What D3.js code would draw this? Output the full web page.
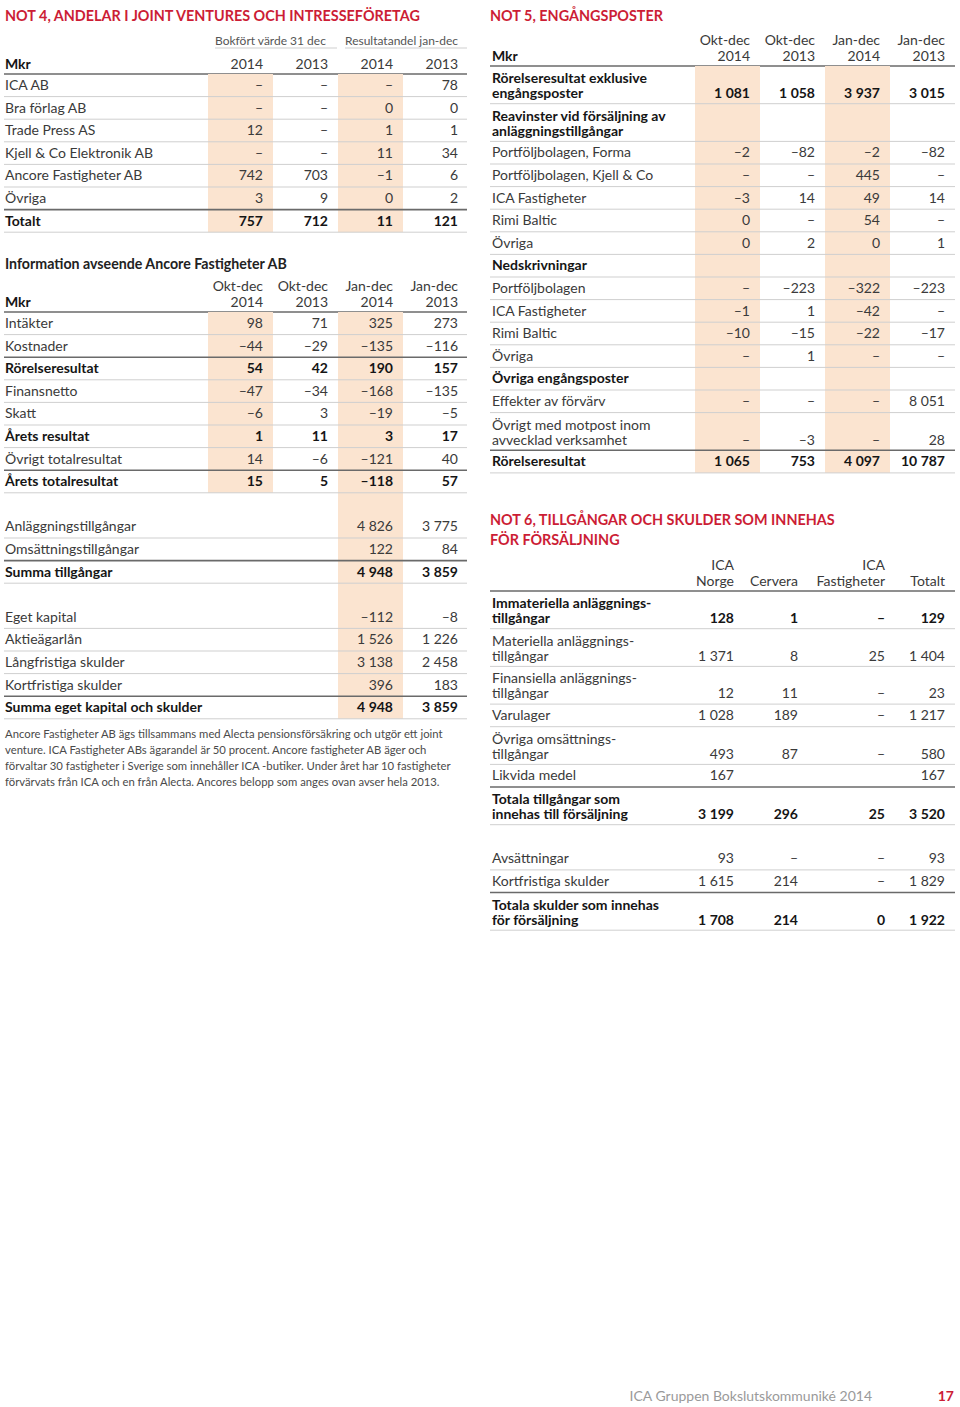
<!DOCTYPE html>
<html><head><meta charset="utf-8">
<script src="https://cdn.jsdelivr.net/npm/d3@7"></script>
<style>
html,body{margin:0;padding:0;background:#fff;}
svg{display:block;font-family:Lato,"Open Sans",sans-serif;}
</style></head>
<body><svg id="c" width="960" height="1407"></svg>
<script>
// ---------- DATA ----------
const not4Title = "NOT 4, ANDELAR I JOINT VENTURES OCH INTRESSEFÖRETAG";
const not4Groups = ["Bokfört värde 31 dec", "Resultatandel jan-dec"];
const not4Columns = [["2014"], ["2013"], ["2014"], ["2013"]];
const not4Companies = ["ICA AB", "Bra förlag AB", "Trade Press AS", "Kjell & Co Elektronik AB", "Ancore Fastigheter AB", "Övriga", "Totalt"];
const not4Values = [
  [null, null, null, 78],
  [null, null, 0, 0],
  [12, null, 1, 1],
  [null, null, 11, 34],
  [742, 703, -1, 6],
  [3, 9, 0, 2],
  [757, 712, 11, 121]
];

const ancoreTitle = "Information avseende Ancore Fastigheter AB";
const ancoreColumns = [["Okt-dec", "2014"], ["Okt-dec", "2013"], ["Jan-dec", "2014"], ["Jan-dec", "2013"]];
const ancoreItems = ["Intäkter", "Kostnader", "Rörelseresultat", "Finansnetto", "Skatt", "Årets resultat", "Övrigt totalresultat", "Årets totalresultat"];
const ancoreValues = [
  [98, 71, 325, 273],
  [-44, -29, -135, -116],
  [54, 42, 190, 157],
  [-47, -34, -168, -135],
  [-6, 3, -19, -5],
  [1, 11, 3, 17],
  [14, -6, -121, 40],
  [15, 5, -118, 57]
];
const ancoreBalanceItems = ["Anläggningstillgångar", "Omsättningstillgångar", "Summa tillgångar", "", "Eget kapital", "Aktieägarlån", "Långfristiga skulder", "Kortfristiga skulder", "Summa eget kapital och skulder"];
const ancoreBalance2014 = [4826, 122, 4948, "", -112, 1526, 3138, 396, 4948];
const ancoreBalance2013 = [3775, 84, 3859, "", -8, 1226, 2458, 183, 3859];
const ancoreNote = [
  "Ancore Fastigheter AB ägs tillsammans med Alecta pensionsförsäkring och utgör ett joint",
  "venture. ICA Fastigheter ABs ägarandel är 50 procent. Ancore fastigheter AB äger och",
  "förvaltar 30 fastigheter i Sverige som innehåller ICA -butiker. Under året har 10 fastigheter",
  "förvärvats från ICA och en från Alecta. Ancores belopp som anges ovan avser hela 2013."
];

const not5Title = "NOT 5, ENGÅNGSPOSTER";
const not5Columns = [["Okt-dec", "2014"], ["Okt-dec", "2013"], ["Jan-dec", "2014"], ["Jan-dec", "2013"]];
const not5Items = [
  ["Rörelseresultat exklusive", "engångsposter"],
  ["Reavinster vid försäljning av", "anläggningstillgångar"],
  ["Portföljbolagen, Forma"],
  ["Portföljbolagen, Kjell & Co"],
  ["ICA Fastigheter"],
  ["Rimi Baltic"],
  ["Övriga"],
  ["Nedskrivningar"],
  ["Portföljbolagen"],
  ["ICA Fastigheter"],
  ["Rimi Baltic"],
  ["Övriga"],
  ["Övriga engångsposter"],
  ["Effekter av förvärv"],
  ["Övrigt med motpost inom", "avvecklad verksamhet"],
  ["Rörelseresultat"]
];
const not5Values = [
  [1081, 1058, 3937, 3015],
  [],
  [-2, -82, -2, -82],
  [null, null, 445, null],
  [-3, 14, 49, 14],
  [0, null, 54, null],
  [0, 2, 0, 1],
  [],
  [null, -223, -322, -223],
  [-1, 1, -42, null],
  [-10, -15, -22, -17],
  [null, 1, null, null],
  [],
  [null, null, null, 8051],
  [null, -3, null, 28],
  [1065, 753, 4097, 10787]
];

const not6Title = ["NOT 6, TILLGÅNGAR OCH SKULDER SOM INNEHAS", "FÖR FÖRSÄLJNING"];
const not6Columns = [["ICA", "Norge"], ["", "Cervera"], ["ICA", "Fastigheter"], ["", "Totalt"]];
const not6Items = [
  ["Immateriella anläggnings-", "tillgångar"],
  ["Materiella anläggnings-", "tillgångar"],
  ["Finansiella anläggnings-", "tillgångar"],
  ["Varulager"],
  ["Övriga omsättnings-", "tillgångar"],
  ["Likvida medel"],
  ["Totala tillgångar som", "innehas till försäljning"],
  [""],
  ["Avsättningar"],
  ["Kortfristiga skulder"],
  ["Totala skulder som innehas", "för försäljning"]
];
const not6Values = [
  [128, 1, null, 129],
  [1371, 8, 25, 1404],
  [12, 11, null, 23],
  [1028, 189, null, 1217],
  [493, 87, null, 580],
  [167, "", "", 167],
  [3199, 296, 25, 3520],
  [],
  [93, null, null, 93],
  [1615, 214, null, 1829],
  [1708, 214, 0, 1922]
];

const footerText = "ICA Gruppen Bokslutskommuniké 2014";
const pageNumber = "17";

// ---------- STYLE ----------
const RED = "#cc1d35", TXT = "#3a3a3a", BOLD = "#151515", SHADE = "#fbe4d0";
const LIGHT = "#cfcfcf", DARK = "#6a6a6a";
const FS = 14, ROW = 22.6, ROW2 = 37.7;

const fmtNum = d3.formatLocale({decimal: ",", thousands: "\u00a0", grouping: [3], currency: ["", ""], minus: "\u2013"}).format(",d");
const cellText = v => v === null ? "\u2013" : (v === "" || v === undefined ? "" : fmtNum(v));

const svg = d3.select("#c");
svg.append("rect").attr("width", 960).attr("height", 1407).attr("fill", "#fff");

function layoutRows(rows, top) {
  let y = top;
  rows.forEach(r => { r.top = y; r.h = r.label.length > 1 ? ROW2 : ROW; y += r.h; r.bottom = y; });
  return y;
}

function drawTable(g, cfg) {
  const {x0, x1, lx, colX, rows, shades} = cfg;
  g.append("g").selectAll("rect").data(shades).join("rect")
    .attr("x", d => colX(d.col) - 55).attr("width", 65)
    .attr("y", d => d.y0).attr("height", d => d.y1 - d.y0)
    .attr("fill", SHADE);
  const rules = [];
  rows.forEach((r, i) => {
    if (r.noRule) return;
    const next = rows[i + 1];
    rules.push({y: r.bottom, dark: next && next.darkAbove});
  });
  g.append("g").selectAll("line").data(rules).join("line")
    .attr("x1", x0).attr("x2", x1)
    .attr("y1", d => d.y).attr("y2", d => d.y)
    .attr("stroke", d => d.dark ? DARK : LIGHT)
    .attr("stroke-width", d => d.dark ? 1.6 : 1);
  const rg = g.append("g").selectAll("g").data(rows).join("g");
  rg.each(function(r) {
    const sel = d3.select(this);
    const base = r.label.length > 1 ? r.top + 32 : r.top + 16;
    r.label.forEach((t, k) => {
      sel.append("text")
        .attr("x", lx)
        .attr("y", r.label.length > 1 ? r.top + 17 + k * 15 : base)
        .attr("font-size", FS)
        .attr("font-weight", r.bold || r.heading ? 700 : 400)
        .attr("fill", r.bold || r.heading ? BOLD : TXT)
        .text(t);
    });
    sel.selectAll("text.v").data(r.values.map((v, c) => ({v, c})).filter(d => d.v !== undefined))
      .join("text").attr("class", "v")
      .attr("x", d => colX(d.c)).attr("y", base)
      .attr("text-anchor", "end")
      .attr("font-size", FS)
      .attr("font-weight", r.bold ? 700 : 400)
      .attr("fill", r.bold ? BOLD : TXT)
      .text(d => cellText(d.v));
  });
}

function drawHeader(g, cfg) {
  const {x0, x1, lx, colX, cols, lineY, mkr} = cfg;
  cols.forEach((lines, c) => {
    lines.forEach((t, k) => {
      g.append("text")
        .attr("x", colX(c))
        .attr("y", lineY - 5.5 - (lines.length - 1 - k) * 15.5)
        .attr("text-anchor", "end").attr("font-size", FS).attr("fill", TXT)
        .text(t);
    });
  });
  if (mkr) g.append("text").attr("x", lx).attr("y", lineY - 5.5)
    .attr("font-size", FS).attr("font-weight", 700).attr("fill", BOLD).text("Mkr");
  g.append("line").attr("x1", x0).attr("x2", x1).attr("y1", lineY).attr("y2", lineY)
    .attr("stroke", DARK).attr("stroke-width", 1.6);
}

function title(g, x, y, t) {
  g.append("text").attr("x", x).attr("y", y).attr("font-size", 14.4)
    .attr("font-weight", 700).attr("fill", RED).text(t);
}

// ---------- NOT 4 ----------
{
  const g = svg.append("g");
  const x0 = 4, x1 = 467, lx = 5;
  const colX = d3.scalePoint().domain(d3.range(4)).range([263, 458]);
  title(g, 5, 21, not4Title);
  const groupX = d3.scaleOrdinal().domain([0, 1]).range([[215, 337], [345, 467]]);
  not4Groups.forEach((t, i) => {
    const [a, b] = groupX(i);
    g.append("text").attr("x", a).attr("y", 45).attr("font-size", 12).attr("fill", "#555").text(t);
    g.append("line").attr("x1", a).attr("x2", b).attr("y1", 48).attr("y2", 48)
      .attr("stroke", LIGHT).attr("stroke-width", 1);
  });
  drawHeader(g, {x0, x1, lx, colX, cols: not4Columns, lineY: 74, mkr: true});
  const rows = not4Companies.map((n, i) => ({label: [n], values: not4Values[i], bold: n === "Totalt", darkAbove: n === "Totalt"}));
  const end = layoutRows(rows, 74);
  drawTable(g, {x0, x1, lx, colX, rows, shades: [{col: 0, y0: 74, y1: end}, {col: 2, y0: 74, y1: end}]});

  // Ancore
  g.append("text").attr("x", 5).attr("y", 268.5).attr("font-size", 14.2).attr("font-weight", 700)
    .attr("fill", "#222").text(ancoreTitle);
  drawHeader(g, {x0, x1, lx, colX, cols: ancoreColumns, lineY: 312, mkr: true});
  const boldA = new Set(["Rörelseresultat", "Årets resultat", "Årets totalresultat", "Summa tillgångar", "Summa eget kapital och skulder"]);
  const darkA = new Set(["Rörelseresultat", "Årets totalresultat", "Summa tillgångar", "Summa eget kapital och skulder"]);
  const aRows = ancoreItems.map((n, i) => ({label: [n], values: ancoreValues[i], bold: boldA.has(n), darkAbove: darkA.has(n)}));
  aRows.push({label: [""], values: [], noRule: true});
  ancoreBalanceItems.forEach((n, i) => {
    aRows.push({label: [n], values: [undefined, undefined, ancoreBalance2014[i], ancoreBalance2013[i]],
      bold: boldA.has(n), darkAbove: darkA.has(n), noRule: n === ""});
  });
  const aEnd = layoutRows(aRows, 312);
  const incomeEnd = aRows[ancoreItems.length - 1].bottom;
  drawTable(g, {x0, x1, lx, colX, rows: aRows, shades: [{col: 0, y0: 312, y1: incomeEnd}, {col: 2, y0: 312, y1: aEnd}]});
  g.append("g").selectAll("text").data(ancoreNote).join("text")
    .attr("x", 5).attr("y", (d, i) => 738 + i * 16).attr("font-size", 11.3).attr("fill", "#4a4a4a").text(d => d);
}

// ---------- NOT 5 ----------
{
  const g = svg.append("g");
  const x0 = 490, x1 = 955, lx = 492;
  const colX = d3.scalePoint().domain(d3.range(4)).range([750, 945]);
  title(g, x0, 21, not5Title);
  drawHeader(g, {x0, x1, lx, colX, cols: not5Columns, lineY: 66, mkr: true});
  const headings = new Set([1, 7, 12]);
  const rows = not5Items.map((lab, i) => ({
    label: lab, values: not5Values[i],
    bold: i === 0 || i === not5Items.length - 1,
    heading: headings.has(i),
    darkAbove: i === not5Items.length - 1
  }));
  const end = layoutRows(rows, 66);
  drawTable(g, {x0, x1, lx, colX, rows, shades: [{col: 0, y0: 66, y1: end}, {col: 2, y0: 66, y1: end}]});
}

// ---------- NOT 6 ----------
{
  const g = svg.append("g");
  const x0 = 490, x1 = 955, lx = 492;
  const colX = d3.scaleOrdinal().domain(d3.range(4)).range([734, 798, 885, 945]);
  not6Title.forEach((t, i) => title(g, x0, 525 + i * 20, t));
  drawHeader(g, {x0, x1, lx, colX, cols: not6Columns, lineY: 591, mkr: false});
  const boldR = new Set([0, 6, 10]);
  const darkR = new Set([6, 10]);
  const rows = not6Items.map((lab, i) => ({
    label: lab, values: not6Values[i], bold: boldR.has(i), darkAbove: darkR.has(i), noRule: i === 7
  }));
  layoutRows(rows, 591);
  drawTable(g, {x0, x1, lx, colX, rows, shades: []});
}

// ---------- FOOTER ----------
svg.append("text").attr("x", 872).attr("y", 1401).attr("text-anchor", "end")
  .attr("font-size", 14).attr("fill", "#9a9a9a").text(footerText);
svg.append("text").attr("x", 954).attr("y", 1401).attr("text-anchor", "end")
  .attr("font-size", 14).attr("font-weight", 700).attr("fill", RED).text(pageNumber);
</script>
</body></html>
